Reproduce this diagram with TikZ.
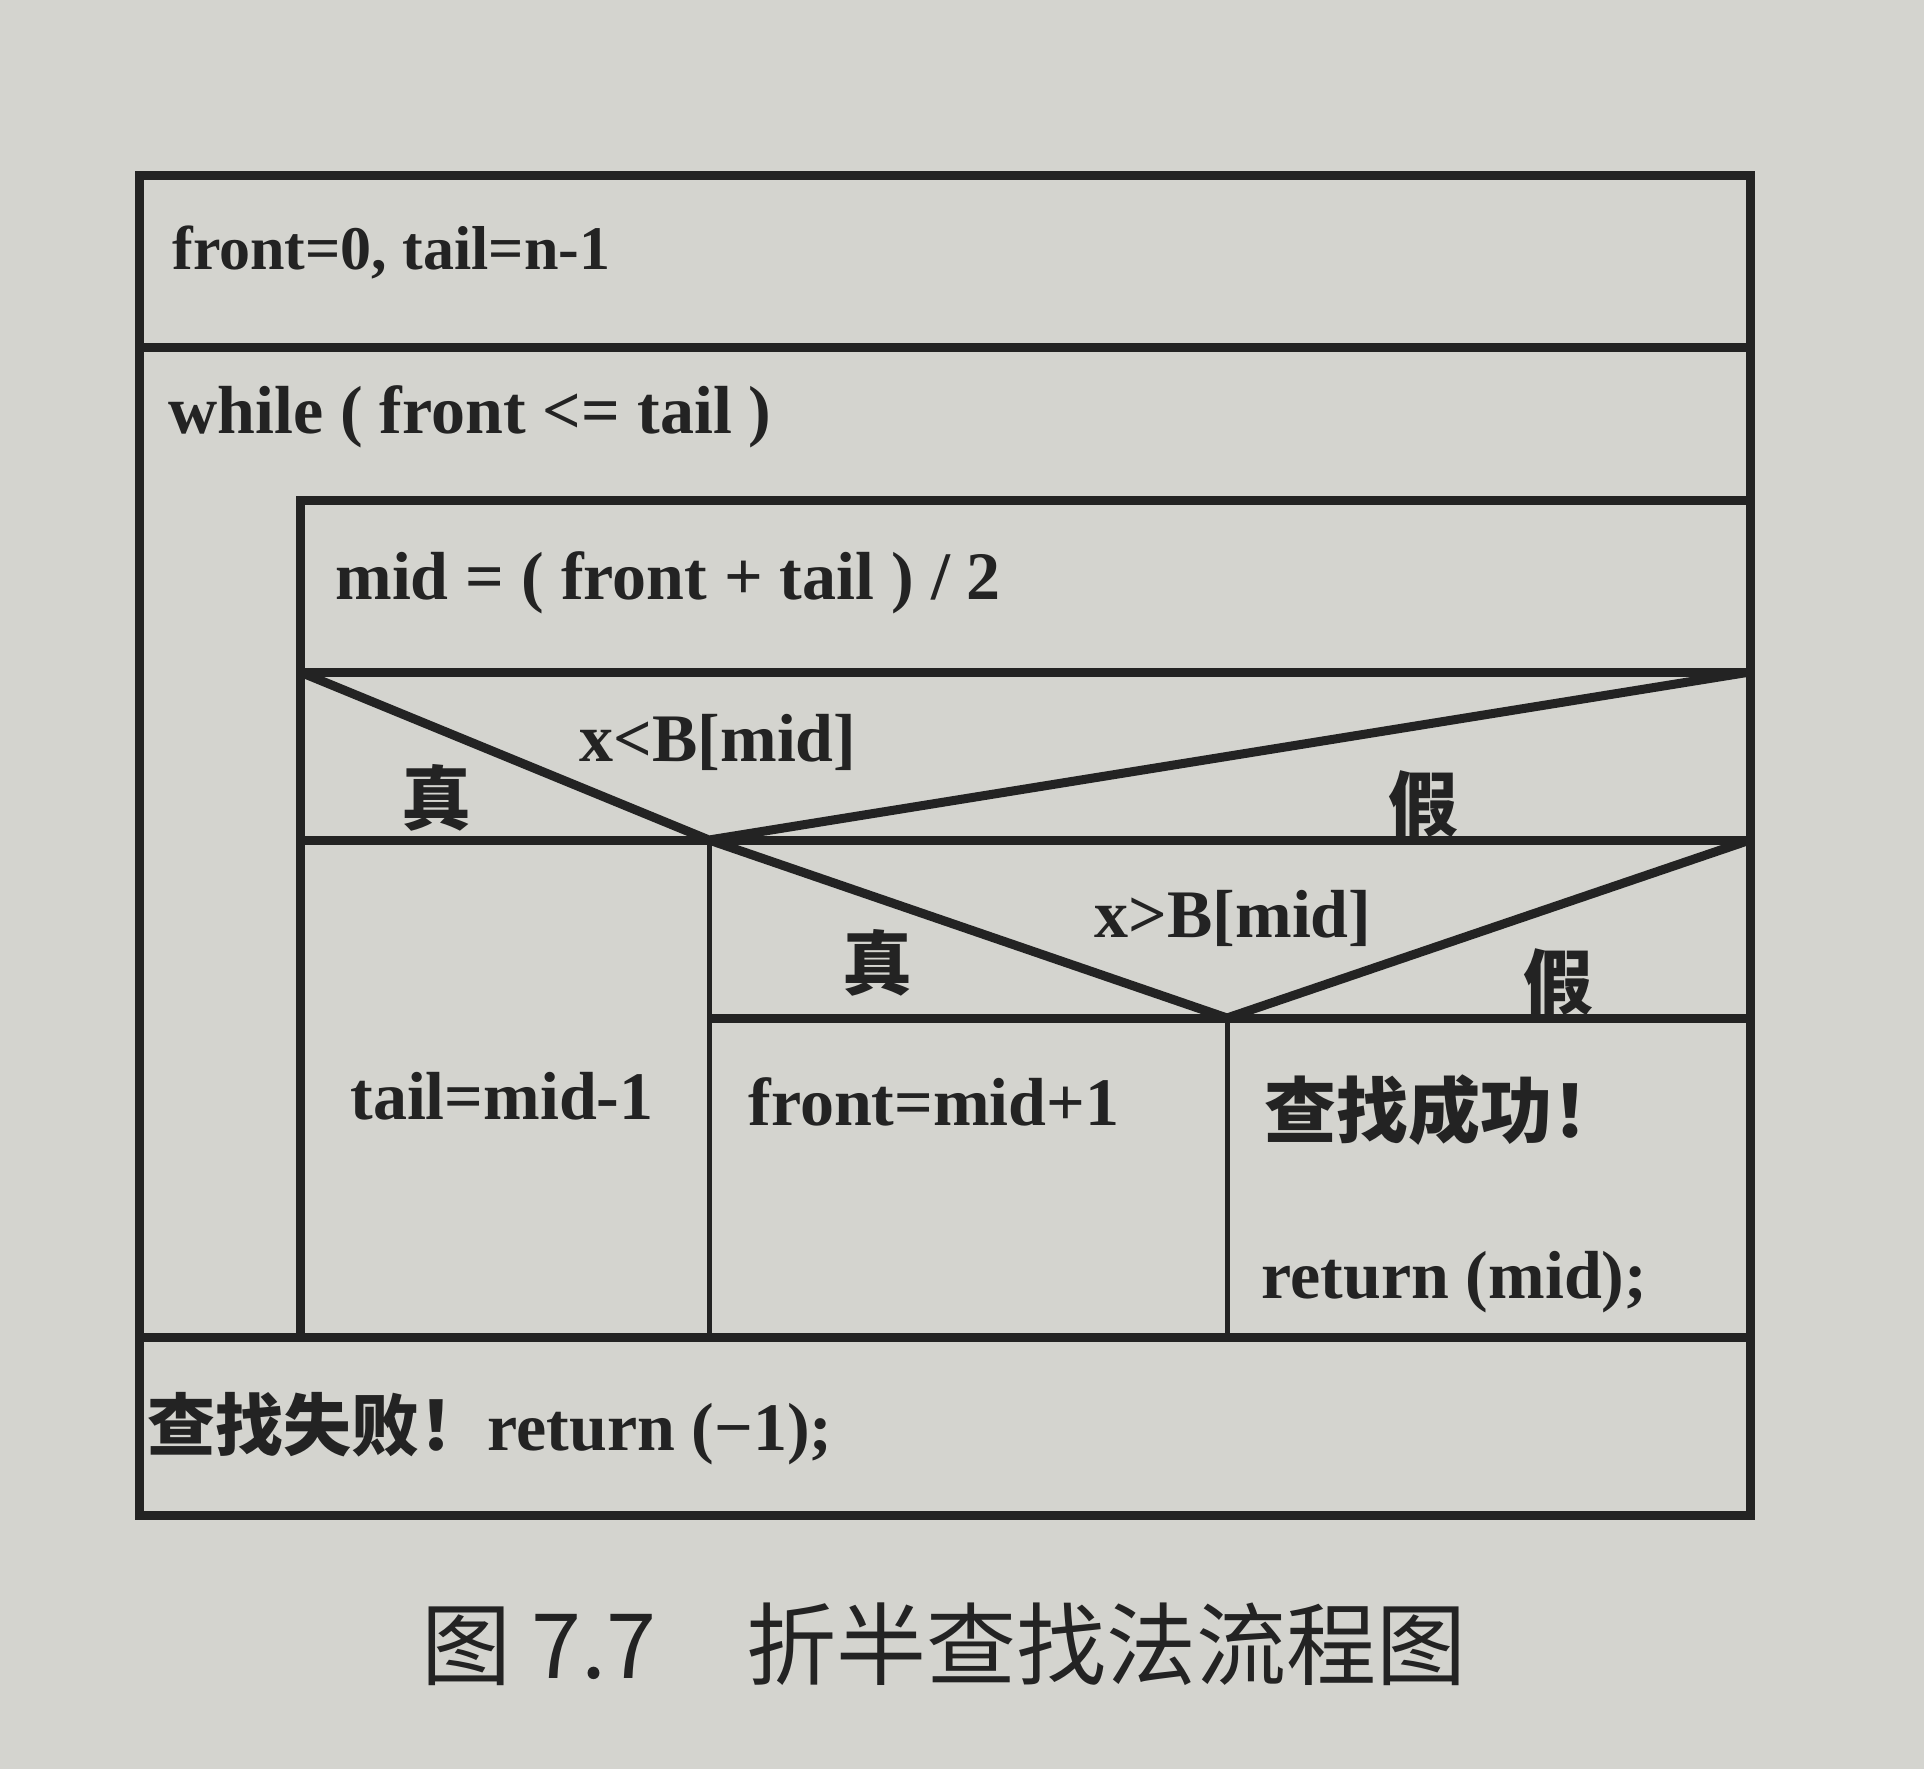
\documentclass[tikz,border=0pt]{standalone}
\usepackage{fontspec}
\setmainfont{Liberation Serif}
\newfontfamily\cjk{Noto Sans CJK SC}
\definecolor{paper}{RGB}{212,212,207}
\definecolor{ink}{RGB}{35,35,35}

\begin{document}
\begin{tikzpicture}[x=0.5pt,y=-0.5pt,
                    box line/.style={draw=ink,line width=4.5pt,line join=miter},
                    col line/.style={draw=ink,line width=2.5pt},
                    code/.style={anchor=west,inner sep=0pt,text=ink,font=\bfseries\fontsize{34}{40}\selectfont},
                    branch text/.style={inner sep=0pt,text=ink,font=\cjk\bfseries\fontsize{35}{40}\selectfont}]
  \fill[paper] (0,0) rectangle (1924,1769);
  % corners of the chart
  \coordinate (ol) at (139,175);   \coordinate (or) at (1750,1515);
  \coordinate (r1l) at (139,347);  \coordinate (r1r) at (1750,347);
  \coordinate (il) at (300,500);   \coordinate (ir) at (1750,500);
  \coordinate (ml) at (300,672);   \coordinate (mr) at (1750,672);
  \coordinate (dl) at (300,840);   \coordinate (dr) at (1750,840);
  \coordinate (v1) at (709,840);
  \coordinate (v2) at (1227,1018); \coordinate (er) at (1750,1018);
  \coordinate (el) at (709,1018);
  \coordinate (bl) at (139,1337);  \coordinate (br) at (1750,1337);
  \coordinate (b1) at (300,1337);  \coordinate (b2) at (709,1337);
  \coordinate (b3) at (1227,1337);
  \draw[box line] (ol) rectangle (or);
  \draw[box line] (r1l) -- (r1r);
  \draw[box line] (b1) -- (il) -- (ir);
  \draw[box line] (ml) -- (mr);
  \draw[box line] (ml) -- (v1) -- (mr);
  \draw[box line] (dl) -- (dr);
  \draw[box line] (v1) -- (v2) -- (dr);
  \draw[box line] (el) -- (er);
  \draw[box line] (bl) -- (br);
  \draw[col line] (v1) -- (b2);
  \draw[col line] (v2) -- (b3);
  % texts
  \node[code,font=\bfseries\fontsize{31}{36}\selectfont] (init) at (172,252) {front=0, tail=n-1};
  \node[code] (loop) at (168,417) {while ( front <= tail )};
  \node[code] (mid) at (335,583) {mid = ( front + tail ) / 2};
  \node[code,anchor=center] (c1) at (718,742) {x<B[mid]};
  \node[branch text] (t1) at (436,798) {真};
  \node[branch text] (f1) at (1423,804) {假};
  \node[code,anchor=center] (c2) at (1233,918) {x>B[mid]};
  \node[branch text] (t2) at (877,963) {真};
  \node[branch text] (f2) at (1558,982) {假};
  \node[code] (lo) at (350,1096) {tail=mid-1};
  \node[code] (hi) at (748,1102) {front=mid+1};
  \node[code,font=\cjk\bfseries\fontsize{36}{40}\selectfont] (ok) at (1264,1110) {查找成功！};
  \node[code] (ret) at (1261,1282) {return (mid);};
  \node[code] (fail) at (147,1429) {{\cjk 查找失败！}return (−1);};
  \node[inner sep=0pt,text=ink,font=\cjk\fontsize{45}{52}\selectfont] (cap) at (944,1644) {图 7.7\hspace{1em}折半查找法流程图};
\end{tikzpicture}
\end{document}
